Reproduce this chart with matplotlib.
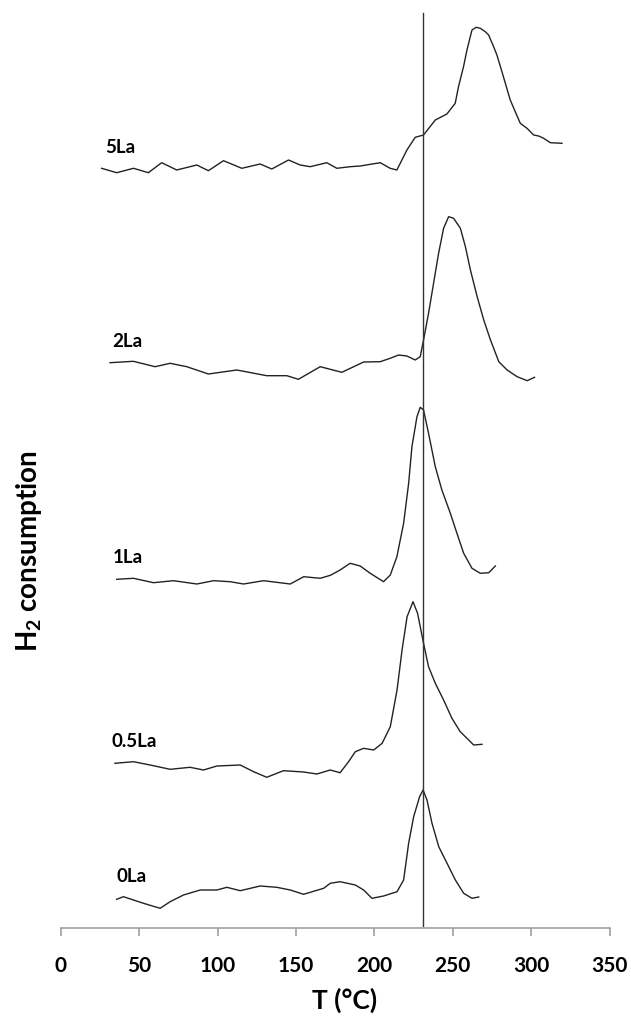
import matplotlib
matplotlib.use("Agg")
import matplotlib.pyplot as plt

plt.rcParams['font.family'] = ['Lato', 'DejaVu Sans']
plt.rcParams['mathtext.fontset'] = 'custom'
plt.rcParams['mathtext.rm'] = 'Lato'
plt.rcParams['mathtext.bf'] = 'Lato:bold'

# TPR profiles, temperature (°C) and H2 signal (a.u., already offset per sample)
t_5la = [26.1, 35.7, 46.4, 55.9, 64.4, 74.0, 86.8, 94.2, 103.8, 115.5, 127.2, 134.6,
         145.3, 152.7, 159.1, 169.7, 176.1, 184.6, 191.0, 203.8, 210.1, 214.4, 220.8,
         226.1, 231.4, 238.9, 246.3, 251.6, 253.7, 256.9, 259.1, 261.2, 262.3, 265.0,
         267.6, 270.8, 272.9, 276.1, 278.2, 281.4, 286.7, 289.9, 293.1, 297.4, 301.6,
         304.8, 308.0, 312.3, 319.7]
h_5la = [760.0, 755.6, 760.0, 755.6, 765.6, 758.3, 763.3, 757.6, 767.6, 760.0, 764.3, 759.3,
         768.3, 763.3, 761.6, 765.6, 760.0, 761.6, 762.3, 765.6, 760.0, 758.3, 778.3,
         791.0, 793.3, 808.3, 814.3, 825.0, 841.6, 861.6, 878.3, 891.6, 898.3, 901.0,
         900.0, 896.6, 893.3, 881.6, 873.3, 856.6, 828.3, 816.6, 805.0, 800.0, 793.3,
         792.3, 790.0, 785.6, 785.0]

t_2la = [31.5, 46.3, 60.2, 69.8, 80.4, 94.2, 112.3, 131.4, 144.2, 151.6, 165.5, 179.3,
         193.2, 203.8, 210.1, 215.5, 220.8, 226.1, 229.3, 231.4, 234.6, 237.8, 241.0,
         244.2, 247.4, 250.6, 254.9, 258.1, 261.3, 265.6, 269.8, 274.1, 279.4, 284.7,
         291.1, 297.5, 302.2]
h_2la = [565.6, 567.0, 561.6, 565.0, 561.6, 554.3, 558.3, 552.6, 552.6, 549.0, 561.6, 556.0,
         566.3, 566.6, 570.0, 573.3, 572.3, 568.3, 571.6, 588.3, 615.0, 645.0, 675.0,
         700.0, 711.6, 710.0, 700.0, 681.6, 658.3, 631.6, 608.3, 588.3, 566.6, 558.3,
         551.6, 547.6, 551.0]

t_1la = [35.7, 46.4, 59.2, 71.9, 86.8, 97.5, 108.1, 116.6, 129.4, 146.4, 155.0, 165.5,
         172.0, 178.2, 184.6, 191.0, 197.4, 205.9, 210.2, 214.4, 218.7, 221.9, 224.0,
         227.2, 229.3, 231.4, 234.6, 238.9, 243.1, 248.5, 252.7, 257.0, 262.3, 267.6,
         273.0, 277.2]
h_1la = [349.0, 350.0, 345.6, 347.6, 344.3, 347.6, 346.6, 344.3, 347.6, 344.3, 351.6, 350.0,
         353.0, 358.3, 365.0, 362.3, 355.0, 346.6, 353.3, 371.6, 405.0, 445.0, 481.6,
         511.6, 521.0, 518.3, 495.0, 461.6, 438.3, 415.0, 395.0, 375.0, 360.0, 355.0,
         355.6, 362.3]

t_05la = [34.6, 46.4, 57.0, 69.8, 82.5, 91.1, 99.6, 114.5, 123.0, 131.4, 142.1, 154.9,
          163.4, 171.9, 178.2, 183.6, 187.9, 193.2, 199.6, 205.0, 210.2, 214.5, 217.7,
          220.9, 224.7, 227.6, 231.4, 234.6, 238.9, 244.2, 249.5, 254.8, 259.1, 263.4, 268.7]
h_05la = [165.0, 166.6, 163.3, 159.0, 161.0, 158.3, 162.3, 163.3, 156.6, 151.0, 157.6, 156.3,
          154.3, 158.3, 155.6, 166.6, 176.6, 180.0, 178.3, 185.0, 201.6, 238.3, 278.3,
          311.6, 326.6, 315.0, 285.0, 261.6, 245.0, 228.3, 210.0, 196.6, 190.0, 183.3, 184.0]

t_0la = [35.7, 40.0, 46.4, 52.8, 63.4, 69.8, 78.3, 89.0, 99.6, 106.0, 114.5, 127.2,
         137.8, 146.4, 154.9, 167.7, 171.9, 178.2, 187.9, 193.2, 198.5, 205.9, 214.5,
         218.7, 221.9, 225.1, 228.9, 231.1, 233.6, 236.8, 241.1, 246.4, 251.7, 257.0,
         262.3, 266.6]
h_0la = [29.0, 31.6, 28.3, 25.0, 20.0, 26.6, 33.3, 38.3, 38.3, 41.0, 37.6, 42.3,
         41.0, 38.3, 34.0, 40.0, 45.0, 46.6, 43.3, 38.3, 30.0, 32.3, 36.6,
         48.3, 85.0, 111.6, 131.6, 138.3, 128.3, 105.0, 81.6, 65.0, 48.3, 35.0,
         30.0, 31.3]

samples = ['5La', '2La', '1La', '0.5La', '0La']
temps = [t_5la, t_2la, t_1la, t_05la, t_0la]
signals = [h_5la, h_2la, h_1la, h_05la, h_0la]
label_t = [28.3, 32.6, 33.4, 32.6, 35.7]
label_h = [781, 587, 371, 187, 52]

ref_t = 231
x_ticks = [0, 50, 100, 150, 200, 250, 300, 350]

fig = plt.figure(figsize=(6.31, 10.18), dpi=100)
ax = fig.add_axes([60.7 / 631, 1 - 928.3 / 1018, 548.8 / 631, 928.3 / 1018])

for name, t, h, lt, lh in zip(samples, temps, signals, label_t, label_h):
    ax.plot(t, h, color='#222222', lw=1.0)
    ax.text(lt, lh, name, fontsize=13.5, fontweight='bold', ha='left', va='center')

ax.plot([ref_t, ref_t], [2, 915], color='#333333', lw=1.0)

ax.set_xlim(0, 350)
ax.set_ylim(0, 928.3)
ax.set_xticks(x_ticks)
ax.set_yticks([])
for side in ['left', 'top', 'right']:
    ax.spines[side].set_visible(False)
ax.spines['bottom'].set_color('#a0a0a0')
ax.spines['bottom'].set_linewidth(1.2)
ax.tick_params(axis='x', direction='out', length=6, width=1.2, color='#a0a0a0',
               pad=14, labelsize=15)
for lab in ax.get_xticklabels():
    lab.set_fontweight('bold')

fig.text(345 / 631, 1 - 1000 / 1018, 'T (°C)', fontsize=19, fontweight='bold',
         ha='center', va='center')
fig.text(29 / 631, 1 - 551 / 1018, r'H$_\mathbf{2}$ consumption', fontsize=20,
         fontweight='bold', rotation=90, ha='center', va='center')

fig.savefig('out.png', dpi=100)
